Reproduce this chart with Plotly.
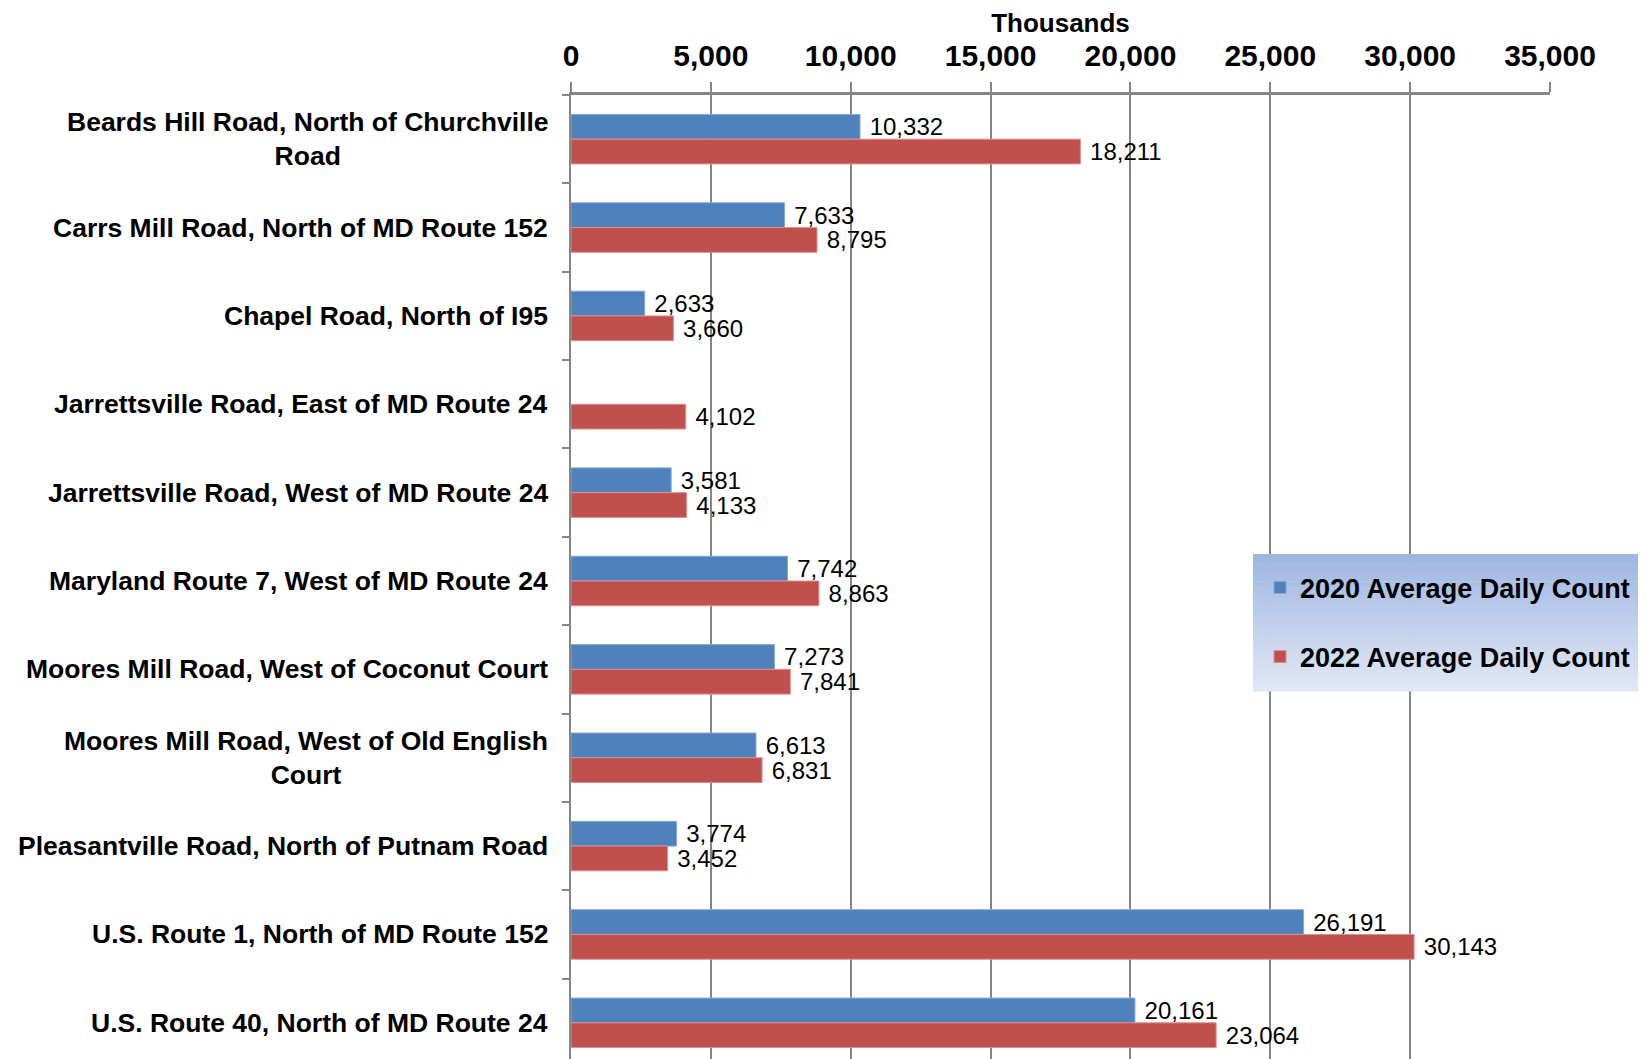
"""Average daily traffic counts by location, 2020 vs 2022 (horizontal grouped bars)."""

import plotly.graph_objects as go

locations = [
    "Beards Hill Road, North of Churchville<br>Road",
    "Carrs Mill Road, North of MD Route 152",
    "Chapel Road, North of I95",
    "Jarrettsville Road, East of MD Route 24",
    "Jarrettsville Road, West of MD Route 24",
    "Maryland Route 7, West of MD Route 24",
    "Moores Mill Road, West of Coconut Court",
    "Moores Mill Road, West of Old English<br>Court",
    "Pleasantville Road, North of Putnam Road",
    "U.S. Route 1, North of MD Route 152",
    "U.S. Route 40, North of MD Route 24",
]
count_2020 = [10332, 7633, 2633, None, 3581, 7742, 7273, 6613, 3774, 26191, 20161]
count_2022 = [18211, 8795, 3660, 4102, 4133, 8863, 7841, 6831, 3452, 30143, 23064]
x_ticks = [0, 5000, 10000, 15000, 20000, 25000, 30000, 35000]

FONT = "Liberation Sans, Arial, sans-serif"
GRID = "#868686"
BLUE = "#4F81BD"
RED = "#C0504D"

fig = go.Figure()
for name, vals, color, edge in [
    ("2020 Average Daily Count", count_2020, BLUE, "#86A7D6"),
    ("2022 Average Daily Count", count_2022, RED, "#DE8E8C"),
]:
    fig.add_trace(go.Bar(
        y=locations,
        x=vals,
        name=name,
        orientation="h",
        legendgroup=name,
        marker=dict(color=color, line=dict(color=edge, width=1)),
        texttemplate="\u00a0%{x:,}",
        textposition="outside",
        constraintext="none",
        cliponaxis=False,
        textfont=dict(family=FONT, size=24, color="#000000"),
        hoverinfo="skip",
    ))

# category labels, centred per line like the original
for loc in locations:
    fig.add_annotation(
        x=0, xref="paper", xanchor="right", xshift=-21,
        y=loc, yref="y", yanchor="middle",
        text=loc, showarrow=False, align="center",
        font=dict(family=FONT, size=26.5, color="#000000", weight="bold"),
    )

# gradient background for the legend box
top_rgb, bot_rgb = (158, 182, 226), (225, 232, 245)
n_strips = 40
y_top, y_bot = 0.5278, 0.3868
for i in range(n_strips):
    t = i / (n_strips - 1)
    rgb = tuple(round(a + (b - a) * t) for a, b in zip(top_rgb, bot_rgb))
    fig.add_shape(
        type="rect", xref="paper", yref="paper", layer="above",
        x0=0.6966, x1=1.12,
        y0=y_top - (y_top - y_bot) * (i + 1) / n_strips - 0.0005,
        y1=y_top - (y_top - y_bot) * i / n_strips,
        fillcolor="rgb(%d,%d,%d)" % rgb, line=dict(width=0),
    )

fig.update_layout(
    width=1646,
    height=1059,
    margin=dict(l=563, r=104, t=87, b=0),
    paper_bgcolor="white",
    plot_bgcolor="white",
    barmode="group",
    bargap=0.44,
    bargroupgap=0,
    showlegend=True,
    legend=dict(
        x=0.7038, y=0.5181, xanchor="left", yanchor="top",
        bgcolor="rgba(0,0,0,0)",
        traceorder="grouped",
        tracegroupgap=31,
        font=dict(family=FONT, size=27, color="#000000", weight="bold"),
    ),
    xaxis=dict(
        side="top",
        range=[0, 35000],
        tickvals=x_ticks,
        tickformat=",",
        tickfont=dict(family=FONT, size=30, color="#000000", weight="bold"),
        ticks="outside",
        ticklen=10,
        tickwidth=1.5,
        tickcolor=GRID,
        ticklabelstandoff=4,
        showgrid=True,
        gridcolor=GRID,
        gridwidth=1.5,
        showline=True,
        linecolor=GRID,
        linewidth=2.5,
        zeroline=False,
        title=dict(
            text="Thousands",
            font=dict(family=FONT, size=26, color="#000000", weight="bold"),
            standoff=13,
        ),
    ),
    yaxis=dict(
        autorange="reversed",
        showticklabels=False,
        ticks="outside",
        tickson="boundaries",
        ticklen=7,
        tickwidth=1.5,
        tickcolor=GRID,
        showgrid=False,
        showline=True,
        linecolor=GRID,
        linewidth=2,
        zeroline=False,
    ),
)

fig.write_html("out.html")
